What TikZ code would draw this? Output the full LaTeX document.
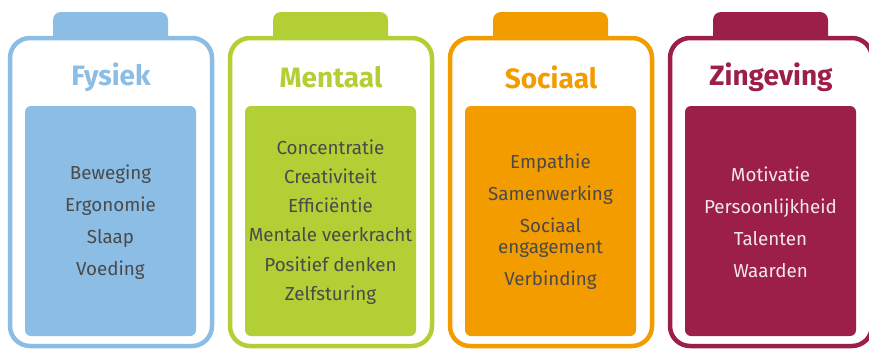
\documentclass[tikz,border=0pt]{standalone}
\usepackage{fontspec}
\setmainfont{Fira Sans}
\definecolor{fysblue}{HTML}{8BBDE5}
\definecolor{mentgreen}{HTML}{B2CF35}
\definecolor{socorange}{HTML}{F39C00}
\definecolor{zinmaroon}{HTML}{9C1F4A}
\definecolor{itemgray}{HTML}{4A4A4A}
\definecolor{itemlight}{HTML}{F2E6EB}
\begin{document}
\begin{tikzpicture}[x=1pt,y=-1pt,
        battery/.style={line width=4.5pt,fill=white,rounded corners=20pt},
        battcap/.style={rounded corners=8pt},
        panel/.style={rounded corners=6pt,inner sep=0pt},
        title/.style={font=\fontsize{28}{32}\selectfont\bfseries},
        items/.style={align=center,text=itemgray,font=\fontsize{18.8}{32}\selectfont}]
        \useasboundingbox (0,0) rectangle (869,348);
        \clip (0,0) rectangle (869,348);
        % Fysiek
        \fill [fysblue,battcap] (53,12) rectangle (168,60);
        \draw [fysblue,battery] (10,38) rectangle (212,346);
        \fill [fysblue,panel] (25,106) rectangle (196,336);
        \node [title,text=fysblue] (fysiek) at (111,77) {Fysiek};
        \node [items] (fysiekitems) at (110.5,222) {Beweging\\Ergonomie\\Slaap\\Voeding};
        % Mentaal
        \fill [mentgreen,battcap] (273,12) rectangle (388,60);
        \draw [mentgreen,battery] (230,38) rectangle (432,346);
        \fill [mentgreen,panel] (245,106) rectangle (416,336);
        \node [title,text=mentgreen] (mentaal) at (331,77) {Mentaal};
        \node [items,font=\fontsize{18.8}{29.3}\selectfont] (mentaalitems) at (330.5,222)
                {Concentratie\\Creativiteit\\Efficiëntie\\Mentale veerkracht\\Positief denken\\Zelfsturing};
        % Sociaal
        \fill [socorange,battcap] (493,12) rectangle (608,60);
        \draw [socorange,battery] (450,38) rectangle (652,346);
        \fill [socorange,panel] (465,106) rectangle (636,336);
        \node [title,text=socorange] (sociaal) at (551,77) {Sociaal};
        \node [items] (sociaalitems) at (550.5,222)
                {Empathie\\Samenwerking\\Sociaal\\[-11pt]engagement\\Verbinding};
        % Zingeving
        \fill [zinmaroon,battcap] (713,12) rectangle (828,60);
        \draw [zinmaroon,battery] (670,38) rectangle (872,346);
        \fill [zinmaroon,panel] (685,106) rectangle (856,336);
        \node [title,text=zinmaroon] (zingeving) at (771,77) {Zingeving};
        \node [items,text=itemlight] (zingevingitems) at (770.5,222)
                {Motivatie\\Persoonlijkheid\\Talenten\\Waarden};
\end{tikzpicture}
\end{document}
